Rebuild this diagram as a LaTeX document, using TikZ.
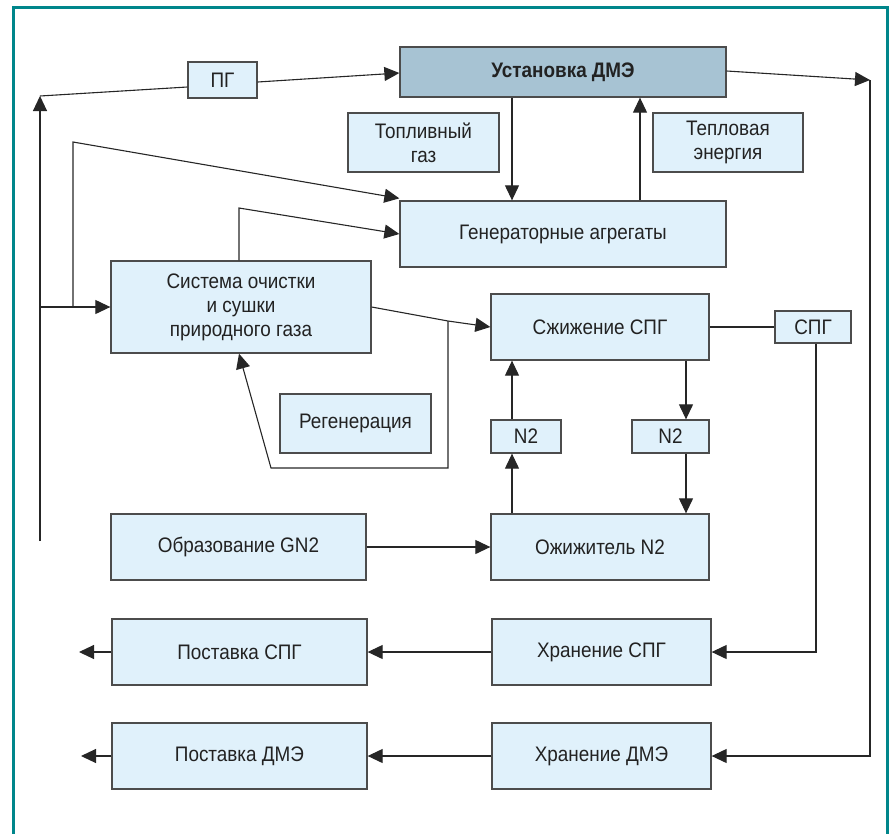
\documentclass[tikz,border=0pt]{standalone}
\usepackage{fontspec}
\setmainfont[FakeStretch=0.9]{Liberation Sans}
\usetikzlibrary{arrows.meta,calc}
\definecolor{boxfill}{HTML}{E0F1FB}
\definecolor{mainfill}{HTML}{A7C3D3}
\definecolor{framecol}{HTML}{00868B}
\definecolor{txt}{HTML}{222222}
\tikzset{
  box/.style={draw=black!70, line width=1.3pt, fill=boxfill, text=txt, align=center, inner sep=0pt,
    font=\fontsize{21}{24}\selectfont},
  conn/.style={draw=black!85, line width=1.1pt},
  arr/.style={conn, -{Triangle[length=15pt,width=14pt]}},
}
\begin{document}
\begin{tikzpicture}[x=1pt,y=-1pt]
\useasboundingbox (0,0) rectangle (893,833);
\draw[framecol, line width=3pt] (13,845) -- (13,7) -- (887,7) -- (887,845);

% nodes
\node[box, minimum width=69pt, minimum height=36pt] (pg) at (222.5,80) {ПГ};
\node[box, fill=mainfill, minimum width=326pt, minimum height=50pt, font=\fontsize{21}{24}\selectfont\bfseries] (ust) at (563,72) {Установка ДМЭ};
\node[box, minimum width=151pt, minimum height=59pt] (top) at (423.5,142.5) {Топливный\\газ};
\node[box, minimum width=150pt, minimum height=59pt] (tep) at (728,142.5) {Тепловая\\энергия};
\node[box, minimum width=326pt, minimum height=66pt] (gen) at (563,234) {Генераторные агрегаты};
\node[box, minimum width=260pt, minimum height=92pt] (sys) at (241,307) {Система очистки\\и сушки\\природного газа};
\node[box, minimum width=218pt, minimum height=66pt] (szh) at (600,327) {Сжижение СПГ};
\node[box, minimum width=76pt, minimum height=32pt] (spg) at (813,327) {СПГ};
\node[box, minimum width=151pt, minimum height=59pt] (reg) at (355.5,423.5) {Регенерация};
\node[box, minimum width=70pt, minimum height=33pt] (n2a) at (526,436.5) {N2};
\node[box, minimum width=77pt, minimum height=33pt] (n2b) at (670.5,436.5) {N2};
\node[box, minimum width=255pt, minimum height=66pt] (obr) at (238.5,547) {Образование GN2};
\node[box, minimum width=218pt, minimum height=66pt] (ozh) at (600,547) {Ожижитель N2};
\node[box, minimum width=255pt, minimum height=66pt] (pspg) at (239.5,652) {Поставка СПГ};
\node[box, minimum width=219pt, minimum height=66pt] (hspg) at (601.5,652) {Хранение СПГ};
\node[box, minimum width=255pt, minimum height=66pt] (pdme) at (239.5,756) {Поставка ДМЭ};
\node[box, minimum width=219pt, minimum height=66pt] (hdme) at (601.5,756) {Хранение ДМЭ};

% helper coordinates
\coordinate (L0) at (40,541);
\coordinate (L1) at (40,96);
\coordinate (B0) at (73,307);
\coordinate (B1) at (73,142);
\coordinate (C1) at (239,208);
\coordinate (M) at (448,321);
\coordinate (M1) at (448,468);
\coordinate (M2) at (271,468);
\coordinate (R1) at (870,80);
\coordinate (xa) at (512,0);
\coordinate (xb) at (640,0);
\coordinate (xc) at (686,0);
\coordinate (E1) at (79,652);
\coordinate (E2) at (81,756);

% connectors
\draw[arr] (L0) -- (L1);
\draw[conn] (L1) -- ([yshift=-7pt]pg.west);
\draw[arr] ([yshift=-2pt]pg.east) -- ([yshift=-1pt]ust.west);
\draw[arr] (L0 |- sys.west) -- (sys.west);
\draw[arr] (B0) -- (B1) -- ([yshift=2pt]gen.north west);
\draw[arr] (sys.north -| C1) -- (C1) -- (gen.west);
\draw[arr] (ust.south -| xa) -- (gen.north -| xa);
\draw[arr] (gen.north -| xb) -- (ust.south -| xb);
\draw[arr] (sys.east) -- (M) -- (szh.west);
\draw[arr] (M) -- (M1) -- (M2) -- ([xshift=-2pt]sys.south);
\draw[conn] (szh.east) -- (spg.west);
\draw[arr] (szh.south -| xc) -- (n2b.north -| xc);
\draw[arr] (n2b.south -| xc) -- (ozh.north -| xc);
\draw[arr] (ozh.north -| xa) -- (n2a.south -| xa);
\draw[arr] (n2a.north -| xa) -- (szh.south -| xa);
\draw[arr] (obr.east) -- (ozh.west);
\draw[arr] ([yshift=1pt]ust.east) -- (R1);
\draw[arr] (R1) -- (R1 |- hdme.east) -- (hdme.east);
\draw[arr] ([xshift=3pt]spg.south) -- ([xshift=3pt]spg.south |- hspg.east) -- (hspg.east);
\draw[arr] (hspg.west) -- (pspg.east);
\draw[arr] (pspg.west) -- (E1);
\draw[arr] (hdme.west) -- (pdme.east);
\draw[arr] (pdme.west) -- (E2);
\end{tikzpicture}
\end{document}
